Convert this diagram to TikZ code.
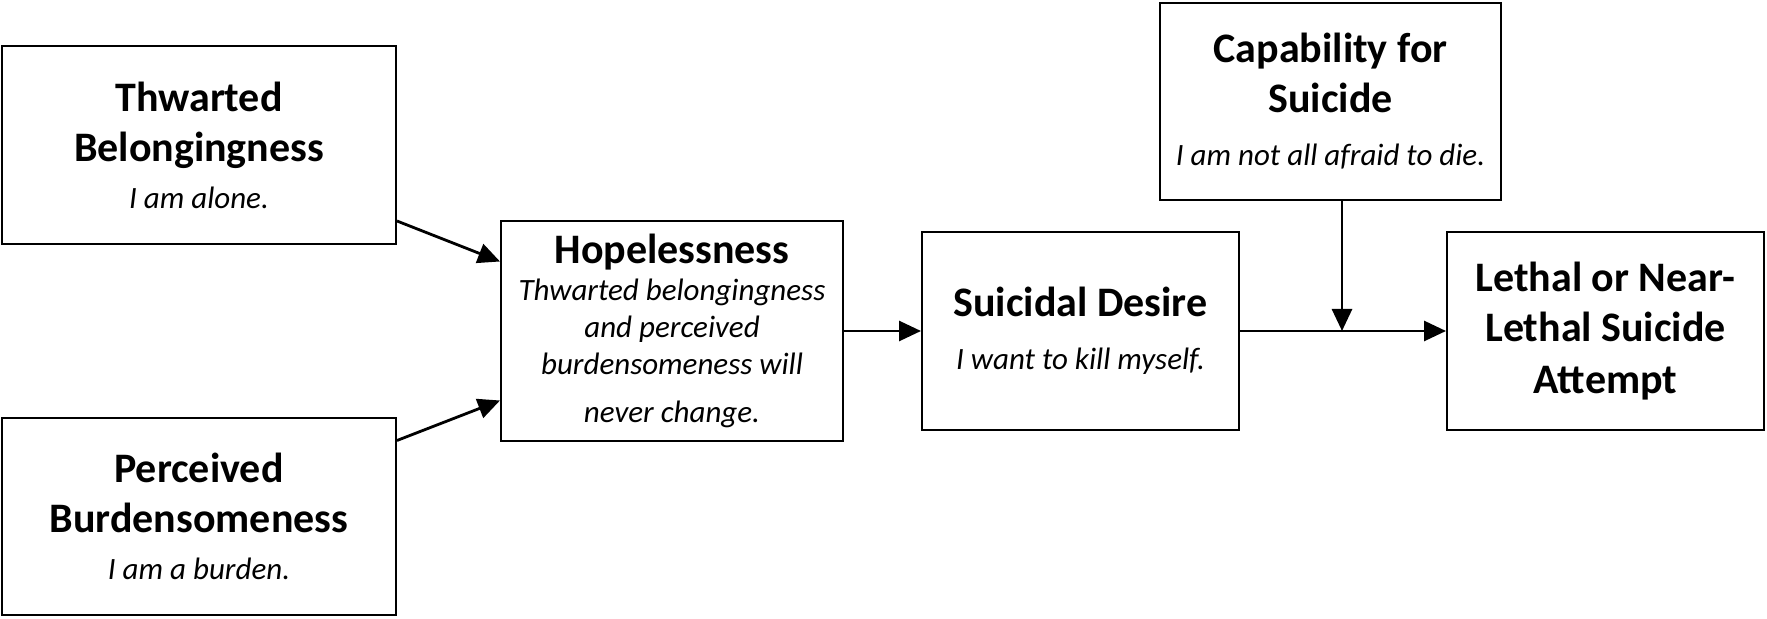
\documentclass[tikz,border=0pt]{standalone}
\usepackage{fontspec}
\setmainfont{Carlito}
\usetikzlibrary{arrows.meta, positioning}
\newcommand{\subtxt}{\fontsize{15.5}{18.5}\selectfont\mdseries\itshape}
\tikzset{
  block/.style={rectangle, draw=black, line width=1pt, align=center,
    font=\fontsize{21}{25}\selectfont\bfseries, inner sep=0pt},
  arrow/.style={-{Triangle[length=11pt,width=10pt]}, line width=1.4pt, color=black}
}

\begin{document}
\begin{tikzpicture}[x=0.5pt, y=-0.5pt]
  \useasboundingbox (0,0) rectangle (1767,619);
  % Boxes
  \node[block, minimum width=197pt, minimum height=99pt] (belong) at (199,145)
    {Thwarted\\Belongingness\\[-1.5pt]\subtxt I am alone.};
  \node[block, minimum width=197pt, minimum height=98.5pt] (burden) at (199,516.5)
    {Perceived\\Burdensomeness\\[-1.5pt]\subtxt I am a burden.};
  \node[block, minimum width=171pt, minimum height=110pt] (hope) at (672,331)
    {Hopelessness\\[-6.5pt]\subtxt Thwarted belongingness\\[-6.5pt]\subtxt and perceived\\[-6.5pt]\subtxt burdensomeness will\\[-1pt]\subtxt never change.};
  \node[block, minimum width=158.5pt, minimum height=99pt] (desire) at (1080.5,331)
    {Suicidal Desire\\[1.5pt]\subtxt I want to kill myself.};
  \node[block, minimum width=170.5pt, minimum height=98.5pt] (capab) at (1330.5,101.5)
    {Capability for\\Suicide\\[1.5pt]\subtxt I am not all afraid to die.};
  \node[block, minimum width=158.5pt, minimum height=99pt] (lethal) at (1605.5,331)
    {Lethal or Near-\\Lethal Suicide\\[1pt]Attempt};
  % Arrows
  \draw[arrow] (belong.-21) -- (hope.158);
  \draw[arrow] (burden.21) -- (hope.202);
  \draw[arrow] (hope) -- (desire);
  \draw[arrow] (desire) -- (lethal);
  \coordinate (join) at (1342,331);
  \draw[arrow] (capab.south -| join) -- (join);
\end{tikzpicture}
\end{document}
